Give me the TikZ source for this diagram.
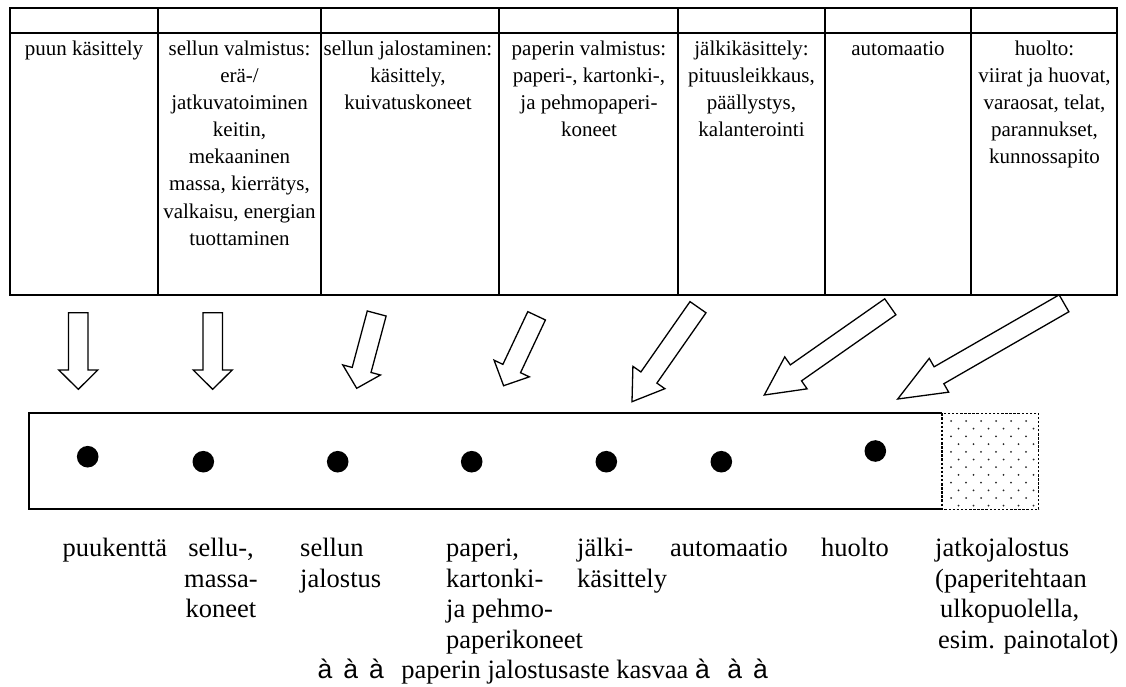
\documentclass[tikz,border=0pt]{standalone}
\usepackage{fontspec}
\setmainfont{Liberation Serif}
\newfontfamily\arrfont{Liberation Sans}
\usetikzlibrary{calc}
\newcommand\topfont{\fontsize{21}{27.14}\selectfont}
\newcommand\botfont{\fontsize{26.5}{30.5}\selectfont}
\newcommand\tstrut{\rule{0pt}{20pt}}
\newcommand\bstrut{\rule{0pt}{25pt}}
\newcommand\arrch{\makebox[25.7pt][l]{\arrfont à}}
\newcommand\shw{9.75pt}
\newcommand\hhw{19.5pt}
\newcommand\blockarrow[3]{%
  \coordinate (#1-b) at ($(#1-t)!#3!(#1-s)$);
  \draw[barrow] ($(#1-s)!\shw!90:(#1-t)$) -- ($(#1-b)!\shw!90:(#1-t)$) -- ($(#1-b)!\hhw!90:(#1-t)$) -- (#1-t) -- ($(#1-b)!\hhw!-90:(#1-t)$) -- ($(#1-b)!\shw!-90:(#1-t)$) -- ($(#1-s)!\shw!-90:(#1-t)$) -- cycle;
}
\begin{document}
\begin{tikzpicture}[x=1pt,y=-1pt,
  tline/.style={line width=2pt},
  cell/.style={anchor=north, inner sep=0pt, align=center, font=\topfont},
  lbl/.style={anchor=north west, inner sep=0pt, align=left, font=\botfont},
  barline/.style={line width=1.7pt},
  barrow/.style={draw, line width=1.3pt, line join=miter, fill=white},
  dot/.style={circle, fill=black, inner sep=0pt, minimum size=21.6pt},
  dotbox/.style={line width=1.3pt, dash pattern=on 2.5pt off 1.6pt},
  pdot/.style={circle, fill=black!85, inner sep=0pt, minimum size=2pt}
]
\useasboundingbox (0,0) rectangle (1126,686);
\fill[white] (0,0) rectangle (1126,686);

% table
\draw[tline] (10,8.3) rectangle (1116.5,295);
\draw[tline] (10,33.3) -- (1116.5,33.3);
\draw[line width=2.8pt] (10,295) -- (1116.5,295);
\foreach \x in {158,321,499,678,825,971}
  \draw[tline] (\x,8.3) -- (\x,295);

\node[cell] (c1) at (84,35) {\tstrut puun käsittely};
\node[cell] (c2) at (239.5,35) {\tstrut sellun valmistus:\\erä-/\\jatkuvatoiminen\\keitin,\\mekaaninen\\massa, kierrätys,\\valkaisu, energian\\tuottaminen};
\node[cell] (c3) at (408,35) {\tstrut sellun jalostaminen:\\käsittely,\\kuivatuskoneet};
\node[cell] (c4) at (589,35) {\tstrut paperin valmistus:\\paperi-, kartonki-,\\ja pehmopaperi-\\koneet};
\node[cell] (c5) at (751.5,35) {\tstrut jälkikäsittely:\\pituusleikkaus,\\päällystys,\\kalanterointi};
\node[cell] (c6) at (898,35) {\tstrut automaatio};
\node[cell] (c7) at (1044.5,35) {\tstrut huolto:\\viirat ja huovat,\\varaosat, telat,\\parannukset,\\kunnossapito};

% block arrows
\coordinate (a1-s) at (78.3,312.7);  \coordinate (a1-t) at (78.3,389.3);
\coordinate (a2-s) at (212.7,312.7); \coordinate (a2-t) at (212.7,389.3);
\coordinate (a3-s) at (376.7,313.5); \coordinate (a3-t) at (356.7,388.3);
\coordinate (a4-s) at (536.6,315.8); \coordinate (a4-t) at (503.6,385.7);
\coordinate (a5-s) at (698,307.2);   \coordinate (a5-t) at (632,401.7);
\coordinate (a6-s) at (890.3,306.8); \coordinate (a6-t) at (764.3,395);
\coordinate (a7-s) at (1064,303.3);  \coordinate (a7-t) at (897.7,399);
\blockarrow{a1}{a1-t}{19.3pt}
\blockarrow{a2}{a2-t}{19.3pt}
\blockarrow{a3}{a3-t}{19pt}
\blockarrow{a4}{a4-t}{19pt}
\blockarrow{a5}{a5-t}{29.5pt}
\blockarrow{a6}{a6-t}{38.6pt}
\blockarrow{a7}{a7-t}{47.6pt}

% bar
\draw[barline] (942,413.3) -| (29.3,509.3) -- (942,509.3);
\draw[dotbox] (942,413.3) rectangle (1038.7,509.3);
\foreach \k in {0,...,5}{
  \foreach \i in {0,...,5}{
    \node[pdot] at ({951+15*\i},{421+15.4*\k}) {};
    \node[pdot] at ({958.5+15*\i},{428.7+15.4*\k}) {};
  }
}
\node[dot] (d1) at (87.7,456.7) {};
\node[dot] (d2) at (203.3,461.7) {};
\node[dot] (d3) at (337.7,461.7) {};
\node[dot] (d4) at (471.7,461.7) {};
\node[dot] (d5) at (606.3,461.7) {};
\node[dot] (d6) at (721.3,461.7) {};
\node[dot] (d7) at (875.3,451) {};

% labels
\node[lbl] (b1) at (62.5,531.5) {\bstrut puukenttä};
\node[lbl, anchor=north, align=center] (b2) at (221,531.5) {\bstrut sellu-,\\massa-\\koneet};
\node[lbl] (b3) at (300,531.5) {\bstrut sellun\\jalostus};
\node[lbl] (b4) at (446,531.5) {\bstrut paperi,\\kartonki-\\ja pehmo-\\paperikoneet};
\node[lbl] (b5) at (577,531.5) {\bstrut jälki-\\käsittely};
\node[lbl] (b6) at (670,531.5) {\bstrut automaatio};
\node[lbl] (b7) at (821,531.5) {\bstrut huolto};
\node[lbl] (b8) at (935,531.5) {\bstrut jatkojalostus\\(paperitehtaan\\\hspace*{5pt}ulkopuolella,\\\hspace*{3pt}esim. painotalot)};
\node[lbl, anchor=base west] (scale) at (317.5,678.5) {\arrch\arrch\arrch\ paperin jalostusaste kasvaa\ \arrch\ \arrch\arrch};
\end{tikzpicture}
\end{document}
